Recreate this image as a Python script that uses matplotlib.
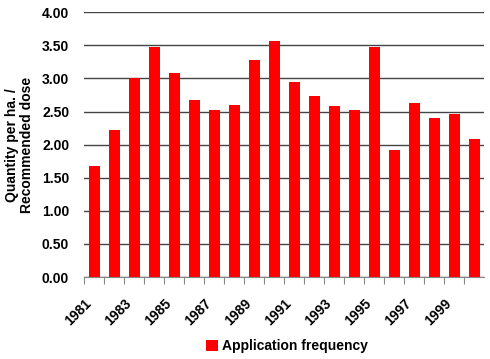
import matplotlib.pyplot as plt
import numpy as np

plt.rcParams['font.family'] = ['Liberation Sans', 'DejaVu Sans']
plt.rcParams['font.weight'] = 'bold'

# Данные
years = list(range(1981, 2001))
values = [1.67, 2.22, 3.00, 3.47, 3.08, 2.67, 2.53, 2.60, 3.28, 3.57,
          2.94, 2.74, 2.58, 2.52, 3.48, 1.92, 2.63, 2.41, 2.46, 2.09]
yticks = [0.0, 0.5, 1.0, 1.5, 2.0, 2.5, 3.0, 3.5, 4.0]

fig = plt.figure(figsize=(4.9, 3.59), dpi=100)
ax = fig.add_axes([0.1724, 0.2284, 0.8156, 0.7373])

x = np.arange(len(years))
ax.bar(x, values, width=0.56, color='#ff0000', zorder=3,
       label='Application frequency')

ax.set_xlim(-0.5, len(years) - 0.5)
ax.set_ylim(0, 4)
ax.set_yticks(yticks)
ax.set_yticklabels([f'{v:.2f}' for v in yticks], fontsize=10, fontweight='bold')
ax.yaxis.grid(True, color='#444444', linewidth=1, zorder=1)
ax.tick_params(axis='y', length=0, pad=11)

# подписи лет на левых границах категорий
ax.set_xticks(x - 0.5)
ax.set_xticklabels([str(y) if i % 2 == 0 else '' for i, y in enumerate(years)],
                   rotation=45, ha='right', rotation_mode='anchor',
                   fontsize=10, fontweight='bold')
ax.tick_params(axis='x', length=5, color='#888888', pad=9)

for s in ['top', 'right', 'left']:
    ax.spines[s].set_visible(False)
ax.spines['bottom'].set_color('#888888')
ax.spines['bottom'].set_zorder(4)

ax.set_ylabel('Quantity per ha. /\nRecommended dose', fontsize=10,
              fontweight='bold', labelpad=6, linespacing=1.1)

fig.legend(loc='center', bbox_to_anchor=(0.585, 0.035), frameon=False,
           prop={'size': 10, 'weight': 'bold'}, handlelength=0.85,
           handleheight=0.85, handletextpad=0.3)

plt.savefig('out.png', dpi=100)
plt.close()
